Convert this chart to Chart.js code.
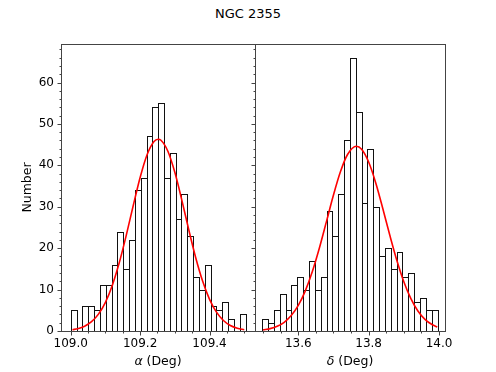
<!DOCTYPE html>
<html>
<head>
<meta charset="utf-8">
<title>NGC 2355</title>
<script src="https://cdn.jsdelivr.net/npm/chart.js@4.4.1/dist/chart.umd.min.js"></script>
<style>
  html, body { margin: 0; padding: 0; background: #fff; }
  #fig { position: relative; width: 496px; height: 372px; overflow: hidden; }
  #title { position: absolute; left: 0; top: 7px; width: 496px; text-align: center;
           font: 13px "DejaVu Sans", sans-serif; line-height: 1; color: #000; }
  canvas { position: absolute; top: 0; }
  #chartRa { left: 0; }
  #chartDec { left: 250px; }
</style>
</head>
<body>
<div id="fig">
  <div id="title">NGC 2355</div>
  <canvas id="chartRa" width="256" height="372"></canvas>
  <canvas id="chartDec" width="246" height="372"></canvas>
</div>
<script>
// histogram bin centres and counts
const raBins = [109.0084, 109.0252, 109.0420, 109.0588, 109.0756, 109.0924, 109.1092, 109.1260,
  109.1428, 109.1596, 109.1764, 109.1932, 109.2100, 109.2268, 109.2436, 109.2604, 109.2772,
  109.2940, 109.3108, 109.3276, 109.3444, 109.3612, 109.3780, 109.3948, 109.4116, 109.4284,
  109.4452, 109.4620, 109.4788, 109.4956];
const raCounts = [5, 0, 6, 6, 5, 11, 11, 16, 24, 15, 22, 34, 37, 47, 54, 55, 37, 43, 27, 33,
  23, 13, 10, 16, 6, 5, 7, 3, 0, 4];

const decBins = [13.5059, 13.5225, 13.5391, 13.5557, 13.5723, 13.5890, 13.6056, 13.6222,
  13.6388, 13.6554, 13.6720, 13.6886, 13.7052, 13.7218, 13.7384, 13.7551, 13.7717, 13.7883,
  13.8049, 13.8215, 13.8381, 13.8547, 13.8713, 13.8879, 13.9045, 13.9212, 13.9378, 13.9544,
  13.9710, 13.9876];
const decCounts = [3, 2, 5, 9, 5, 11, 13, 10, 17, 10, 13, 29, 23, 33, 46, 66, 53, 31, 44, 30,
  18, 20, 15, 19, 13, 14, 7, 8, 5, 5];

// red fitted curves
const raFitX = [109.005, 109.02, 109.04, 109.06, 109.08, 109.10, 109.12, 109.14, 109.16, 109.18,
  109.20, 109.22, 109.24, 109.252, 109.26, 109.28, 109.30, 109.32, 109.34, 109.36, 109.38,
  109.40, 109.42, 109.44, 109.46, 109.48, 109.50];
const raFitY = [0.31, 0.56, 1.15, 2.24, 4.07, 6.93, 11.06, 16.52, 23.09, 30.24, 37.07, 42.56,
  45.75, 46.3, 46.06, 43.41, 38.31, 31.66, 24.50, 17.75, 12.05, 7.65, 4.55, 2.54, 1.32, 0.65, 0.30];

const decFitX = [13.50, 13.52, 13.54, 13.56, 13.58, 13.60, 13.62, 13.64, 13.66, 13.68, 13.70,
  13.72, 13.74, 13.765, 13.78, 13.80, 13.82, 13.84, 13.86, 13.88, 13.90, 13.92, 13.94, 13.96,
  13.98, 13.995];
const decFitY = [0.27, 0.57, 1.13, 2.11, 3.72, 6.18, 9.70, 14.35, 20.04, 26.40, 32.83, 38.50,
  42.62, 44.6, 43.88, 40.80, 35.81, 29.65, 23.17, 17.08, 11.88, 7.80, 4.83, 2.82, 1.56, 0.96];

const raTicks = [109.0, 109.2, 109.4];
const decTicks = [13.6, 13.8, 14.0];
const countTicks = [0, 10, 20, 30, 40, 50, 60];

const FONT = '"DejaVu Sans", sans-serif';
Chart.defaults.font.family = FONT;
Chart.defaults.color = '#000';

// matplotlib-like frame, ticks, outlined bars and math x label
const mplAxes = {
  id: 'mplAxes',
  afterDatasetDraw(chart, args) {
    if (args.meta.type !== 'bar') return;
    const ctx = chart.ctx;
    ctx.save();
    ctx.strokeStyle = '#111';
    ctx.lineWidth = 1;
    args.meta.data.forEach(el => {
      const p = el.getProps(['x', 'y', 'base', 'width'], true);
      if (Math.abs(p.base - p.y) < 0.5) return;
      const l = Math.round(p.x - p.width / 2) + 0.5;
      const r = Math.round(p.x + p.width / 2) + 0.5;
      const t = Math.round(p.y) + 0.5;
      const b = Math.round(p.base) + 0.5;
      ctx.strokeRect(l, t, r - l, b - t);
    });
    ctx.restore();
  },
  afterDraw(chart, args, o) {
    const { ctx, chartArea: a, scales: { x, y } } = chart;
    const L = Math.round(a.left) + 0.5, R = Math.round(a.right) + 0.5;
    const T = Math.round(a.top) + 0.5, B = Math.round(a.bottom) + 0.5;
    ctx.save();
    ctx.strokeStyle = '#444';
    ctx.lineWidth = 1;
    ctx.strokeRect(L, T, R - L, B - T);

    ctx.beginPath();
    for (let k = Math.ceil(x.min / o.xMinor); k * o.xMinor <= x.max; k++) {
      const v = k * o.xMinor;
      const len = o.xMajor.some(m => Math.abs(m - v) < 1e-6) ? 4 : 2;
      const px = Math.round(x.getPixelForValue(v)) + 0.5;
      ctx.moveTo(px, B);
      ctx.lineTo(px, B + len);
    }
    for (let k = Math.ceil(y.min / o.yMinor); k * o.yMinor <= y.max; k++) {
      const v = k * o.yMinor;
      const len = o.yMajor.includes(v) ? 4 : 2;
      const py = Math.round(y.getPixelForValue(v)) + 0.5;
      ctx.moveTo(L, py);
      ctx.lineTo(L - len, py);
    }
    ctx.stroke();

    // x label: italic greek symbol followed by upright text
    const size = 12.5;
    const sym = 'italic ' + size + 'px ' + FONT;
    const rest = size + 'px ' + FONT;
    ctx.fillStyle = '#000';
    ctx.textBaseline = 'alphabetic';
    ctx.textAlign = 'left';
    ctx.font = sym;
    const w1 = ctx.measureText(o.xLabel[0]).width;
    ctx.font = rest;
    const w2 = ctx.measureText(o.xLabel[1]).width;
    let cx = (a.left + a.right) / 2 - (w1 + w2) / 2;
    ctx.font = sym;
    ctx.fillText(o.xLabel[0], cx, 364.5);
    ctx.font = rest;
    ctx.fillText(o.xLabel[1], cx + w1, 364.5);
    ctx.restore();
  }
};

function makePanel(id, p) {
  const bars = p.bins.map((b, i) => ({ x: b, y: p.counts[i] }));
  const fit = p.fitX.map((v, i) => ({ x: v, y: p.fitY[i] }));
  return new Chart(document.getElementById(id), {
    type: 'bar',
    data: {
      datasets: [
        {
          type: 'line',
          data: fit,
          borderColor: '#ff0000',
          borderWidth: 1.6,
          pointRadius: 0,
          fill: false,
          cubicInterpolationMode: 'monotone',
          order: 0
        },
        {
          type: 'bar',
          data: bars,
          backgroundColor: 'rgba(0,0,0,0)',
          borderWidth: 0,
          barPercentage: 1,
          categoryPercentage: 1,
          order: 1
        }
      ]
    },
    options: {
      responsive: false,
      animation: false,
      devicePixelRatio: 1,
      layout: { padding: { top: 44, left: 0, bottom: 0, right: p.padRight } },
      plugins: {
        legend: { display: false },
        tooltip: { enabled: false },
        mplAxes: { xMinor: 0.05, yMinor: 2, xMajor: p.xTicks, yMajor: countTicks, xLabel: p.xLabel }
      },
      scales: {
        x: {
          type: 'linear',
          offset: false,
          min: p.xMin,
          max: p.xMax,
          grid: { display: false, drawTicks: false, offset: false },
          border: { display: false },
          ticks: {
            font: { size: 12 }, color: '#000', padding: 6,
            autoSkip: false, maxRotation: 0,
            callback: v => v.toFixed(1)
          },
          afterBuildTicks: s => { s.ticks = p.xTicks.map(v => ({ value: v })); },
          afterFit: s => { s.height = 41; }
        },
        y: {
          min: 0,
          max: 69.3,
          grid: { display: false, drawTicks: false },
          border: { display: false },
          ticks: { display: p.showY, font: { size: 12 }, color: '#000', padding: 7, callback: v => String(v) },
          afterBuildTicks: s => { s.ticks = countTicks.map(v => ({ value: v })); },
          afterFit: s => { s.width = p.yWidth; },
          title: {
            display: p.showY, text: 'Number', color: '#000',
            font: { size: 12.5 }, padding: { top: 20, bottom: 0 }
          }
        }
      }
    },
    plugins: [mplAxes]
  });
}

makePanel('chartRa', {
  bins: raBins, counts: raCounts, fitX: raFitX, fitY: raFitY,
  xMin: 108.972, xMax: 109.531, xTicks: raTicks, xLabel: ['α', ' (Deg)'],
  showY: true, yWidth: 61, padRight: 1
});

makePanel('chartDec', {
  bins: decBins, counts: decCounts, fitX: decFitX, fitY: decFitY,
  xMin: 13.477, xMax: 14.017, xTicks: decTicks, xLabel: ['δ', ' (Deg)'],
  showY: false, yWidth: 5, padRight: 51
});
</script>
</body>
</html>
